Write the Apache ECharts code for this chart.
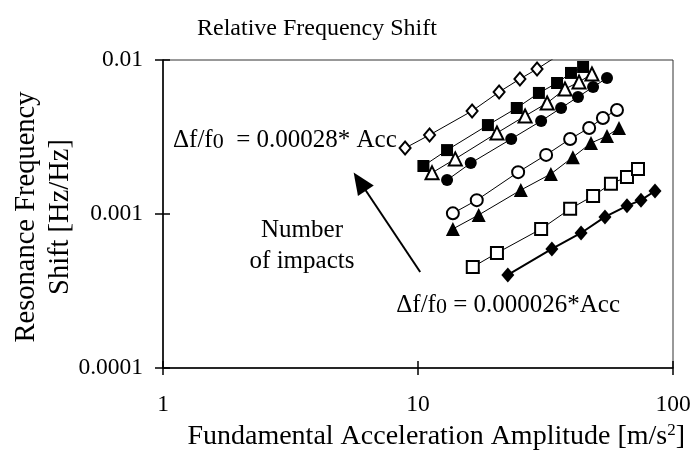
<!DOCTYPE html>
<html>
<head>
<meta charset="utf-8">
<script src="https://cdn.jsdelivr.net/npm/echarts@6/dist/echarts.min.js"></script>
<style>
html,body{margin:0;padding:0;background:#fff;}
#chart{width:696px;height:464px;}
</style>
</head>
<body>
<div id="chart"></div>
<script>
// ---- data (acceleration m/s^2, relative frequency shift Hz/Hz) ----
const openDiamondX = [8.9, 11.1, 16.3, 20.8, 25.1, 29.3, 34.5];
const openDiamondY = [0.00268, 0.00326, 0.00467, 0.00620, 0.00753, 0.00874, 0.0104];
const filledSquareX = [10.5, 13.0, 18.8, 24.4, 29.8, 35.1, 39.8, 44.4];
const filledSquareY = [0.00205, 0.00260, 0.00378, 0.00488, 0.00611, 0.00709, 0.00824, 0.00901];
const openTriangleX = [11.35, 14.0, 20.4, 26.3, 32.1, 37.7, 42.8, 48.1];
const openTriangleY = [0.00185, 0.00228, 0.00336, 0.00433, 0.00526, 0.00648, 0.00720, 0.00811];
const filledCircleX = [13.0, 16.1, 23.2, 30.4, 36.4, 42.4, 48.6, 55.1];
const filledCircleY = [0.00166, 0.00214, 0.00307, 0.00402, 0.00488, 0.00575, 0.00668, 0.00764];
const openCircleX = [13.7, 17.0, 24.7, 31.8, 39.5, 46.9, 53.1, 60.3];
const openCircleY = [0.00101, 0.00123, 0.00187, 0.00242, 0.00307, 0.00362, 0.00420, 0.00473];
const filledTriangleX = [13.7, 17.3, 25.3, 33.2, 40.5, 47.7, 55.1, 61.4];
const filledTriangleY = [0.000800, 0.000986, 0.00143, 0.00182, 0.00234, 0.00289, 0.00321, 0.00362];
const openSquareX = [16.4, 20.4, 30.4, 39.5, 48.6, 57.1, 66.0, 72.9];
const openSquareY = [0.000453, 0.000558, 0.000800, 0.00108, 0.00131, 0.00157, 0.00174, 0.00196];
const filledDiamondX = [22.5, 33.5, 43.6, 54.1, 66.0, 74.9, 85.0];
const filledDiamondY = [0.000402, 0.000593, 0.000753, 0.000957, 0.00113, 0.00123, 0.00141];

const xTickLabels = {1: '1', 10: '10', 100: '100'};
const yTickLabels = {0.0001: '0.0001', 0.001: '0.001', 0.01: '0.01'};

// annotation arrow (data coordinates): tail and head
const arrowTail = [10.2, 0.00042];
const arrowHead = [5.91, 0.001625];

const titleText = 'Relative Frequency Shift';
const xName = 'Fundamental Acceleration Amplitude [m/s';
const yNameLines = ['Resonance Frequency', 'Shift [Hz/Hz]'];
const fitTop = '  = 0.00028* Acc';
const fitBottom = ' = 0.000026*Acc';
const impactsLines = ['Number', 'of impacts'];

const FONT = 'Liberation Serif';

function pairs(xs, ys) { return xs.map((x, i) => [x, ys[i]]); }

const chart = echarts.init(document.getElementById('chart'), null, {renderer: 'canvas'});

function mkSeries(xs, ys, symbol, size, filled, lineWidth, extra) {
  return Object.assign({
    type: 'line',
    data: pairs(xs, ys),
    symbol: symbol,
    symbolSize: size,
    showAllSymbol: true,
    clip: true,
    lineStyle: {color: '#000', width: lineWidth},
    itemStyle: {color: filled ? '#000' : '#fff', borderColor: '#000', borderWidth: filled ? 0 : 2},
    emphasis: {disabled: true},
    animation: false,
    z: 3
  }, extra || {});
}

const axisLabelStyle = {fontFamily: FONT, fontSize: 23.5, color: '#000'};

const option = {
  animation: false,
  backgroundColor: '#fff',
  title: {
    text: titleText,
    left: 192, top: 12,
    textStyle: {fontFamily: FONT, fontSize: 24, fontWeight: 'normal', color: '#000'}
  },
  grid: {left: 163, right: 23, top: 60, bottom: 96, show: true, borderColor: '#333', borderWidth: 1, backgroundColor: 'transparent'},
  xAxis: [{
    type: 'log', logBase: 10, min: 1, max: 100,
    axisLine: {lineStyle: {color: '#000', width: 1.5}},
    axisTick: {inside: false, length: 7, lineStyle: {color: '#000', width: 1.5}},
    axisLabel: {margin: 25, ...axisLabelStyle, formatter: v => xTickLabels[Math.round(v)] || ''},
    splitLine: {show: false}
  }, {
    type: 'log', logBase: 10, min: 1, max: 100, position: 'bottom',
    axisLine: {show: false},
    axisTick: {inside: true, length: 7, lineStyle: {color: '#000', width: 1.5}},
    axisLabel: {show: false},
    splitLine: {show: false}
  }],
  yAxis: [{
    type: 'log', logBase: 10, min: 0.0001, max: 0.01,
    axisLine: {show: true, lineStyle: {color: '#000', width: 1.5}},
    axisTick: {show: true, inside: false, length: 8, lineStyle: {color: '#000', width: 1.5}},
    axisLabel: {margin: 20, ...axisLabelStyle, formatter: v => {
      for (const k in yTickLabels) { if (Math.abs(Math.log10(v) - Math.log10(+k)) < 1e-6) return yTickLabels[k]; }
      return '';
    }},
    splitLine: {show: false}
  }, {
    type: 'log', logBase: 10, min: 0.0001, max: 0.01, position: 'left',
    axisLine: {show: false},
    axisTick: {show: true, inside: true, length: 7, lineStyle: {color: '#000', width: 1.5}},
    axisLabel: {show: false},
    splitLine: {show: false}
  }],
  series: [
    mkSeries(openDiamondX, openDiamondY, 'diamond', [11, 13], false, 1),
    mkSeries(filledSquareX, filledSquareY, 'rect', 12, true, 1),
    mkSeries(openTriangleX, openTriangleY, 'triangle', 13, false, 1),
    mkSeries(filledCircleX, filledCircleY, 'circle', 12, true, 1),
    mkSeries(openCircleX, openCircleY, 'circle', 12, false, 1),
    mkSeries(filledTriangleX, filledTriangleY, 'triangle', 14, true, 1),
    mkSeries(openSquareX, openSquareY, 'rect', 12, false, 1),
    mkSeries(filledDiamondX, filledDiamondY, 'diamond', [13, 15], true, 2, {
      markLine: {
        silent: true,
        animation: false,
        symbol: ['none', 'triangle'],
        symbolSize: [19, 22],
        label: {show: false},
        lineStyle: {color: '#000', width: 2, type: 'solid'},
        data: [[{coord: arrowTail}, {coord: arrowHead}]]
      }
    })
  ],
  graphic: [
    {
      type: 'text', x: 44, y: 217, rotation: Math.PI / 2,
      style: {text: yNameLines.join('\n'), font: '28.5px "' + FONT + '"', fill: '#000', align: 'center', verticalAlign: 'middle', lineHeight: 34}
    },
    {
      type: 'text', x: 685, y: 437,
      style: {
        text: '{a|' + xName + '}{s|2}{a|]}',
        align: 'right', verticalAlign: 'middle',
        rich: {
          a: {fontFamily: FONT, fontSize: 28, color: '#000'},
          s: {fontFamily: FONT, fontSize: 17, color: '#000', verticalAlign: 'top', padding: [0, 0, 13, 0]}
        }
      }
    },
    {
      type: 'text', x: 173, y: 140,
      style: {
        text: '{a|Δf/f}{s|0}{a|' + fitTop + '}',
        align: 'left', verticalAlign: 'middle',
        rich: {
          a: {fontFamily: FONT, fontSize: 25, color: '#000'},
          s: {fontFamily: FONT, fontSize: 22, color: '#000', padding: [5, 0, 0, 0]}
        }
      }
    },
    {
      type: 'text', x: 620, y: 305,
      style: {
        text: '{a|Δf/f}{s|0}{a|' + fitBottom + '}',
        align: 'right', verticalAlign: 'middle',
        rich: {
          a: {fontFamily: FONT, fontSize: 25, color: '#000'},
          s: {fontFamily: FONT, fontSize: 22, color: '#000', padding: [5, 0, 0, 0]}
        }
      }
    },
    {
      type: 'text', x: 302, y: 246,
      style: {text: impactsLines.join('\n'), font: '25px "' + FONT + '"', fill: '#000', align: 'center', verticalAlign: 'middle', lineHeight: 31}
    }
  ]
};
chart.setOption(option);
</script>
</body>
</html>
